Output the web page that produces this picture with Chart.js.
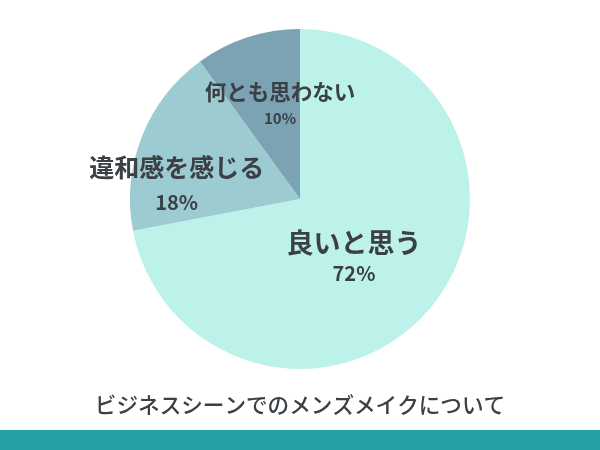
<!DOCTYPE html>
<html>
<head>
<meta charset="utf-8">
<script src="https://cdn.jsdelivr.net/npm/chart.js@4"></script>
<style>
  html, body { margin:0; padding:0; background:#fff; }
  #wrap { width:600px; height:450px; position:relative; }
</style>
</head>
<body>
<div id="wrap"><canvas id="pie"></canvas></div>
<script>
// Data
const labels = ['良いと思う', '違和感を感じる', '何とも思わない'];
const values = [72, 18, 10];
const title = 'ビジネスシーンでのメンズメイクについて';

// Style
const sliceColors = ['#bcf2ea', '#9ccbd1', '#7ba3b4'];
const textColor = '#3b4045';
const fontFamily = '"Noto Sans CJK JP", "Noto Sans", sans-serif';
// label placement per slice: polar angle (deg), radius fraction, font sizes, line offsets
const labelSpots = [
  { angle: 47.5, frac: 0.47, nameSize: 27, pctSize: 20, nameDy: -15, pctDy: 15 },
  { angle: 186.4, frac: 0.73, nameSize: 25, pctSize: 20, nameDy: -18, pctDy: 17 },
  { angle: 258, frac: 0.565, nameSize: 21.5, pctSize: 15, nameDy: -13, pctDy: 13 }
];

const sliceLabels = {
  id: 'sliceLabels',
  afterDatasetsDraw(chart) {
    const ctx = chart.ctx;
    const arcs = chart.getDatasetMeta(0).data;
    ctx.save();
    ctx.fillStyle = textColor;
    ctx.textAlign = 'center';
    ctx.textBaseline = 'middle';
    arcs.forEach((arc, i) => {
      const s = labelSpots[i];
      const a = s.angle * Math.PI / 180;
      const x = arc.x + Math.cos(a) * arc.outerRadius * s.frac;
      const y = arc.y + Math.sin(a) * arc.outerRadius * s.frac;
      ctx.font = `700 ${s.nameSize}px ${fontFamily}`;
      ctx.fillText(labels[i], x, y + s.nameDy);
      ctx.font = `700 ${s.pctSize}px ${fontFamily}`;
      ctx.fillText(values[i] + '%', x, y + s.pctDy);
    });
    ctx.restore();
  }
};

const frame = {
  id: 'frame',
  afterDraw(chart) {
    const ctx = chart.ctx;
    ctx.save();
    ctx.fillStyle = '#279fa6';
    ctx.fillRect(0, 430, chart.width, chart.height - 430);
    ctx.fillStyle = textColor;
    ctx.font = `500 21.6px ${fontFamily}`;
    ctx.textAlign = 'center';
    ctx.textBaseline = 'middle';
    ctx.fillText(title, chart.width / 2, 405);
    ctx.restore();
  }
};

new Chart(document.getElementById('pie').getContext('2d'), {
  type: 'pie',
  data: {
    labels: labels,
    datasets: [{ data: values, backgroundColor: sliceColors, borderWidth: 0 }]
  },
  options: {
    responsive: true,
    maintainAspectRatio: false,
    animation: false,
    layout: { padding: { top: 29, bottom: 81 } },
    plugins: { legend: { display: false }, tooltip: { enabled: false } }
  },
  plugins: [sliceLabels, frame]
});
</script>
</body>
</html>
